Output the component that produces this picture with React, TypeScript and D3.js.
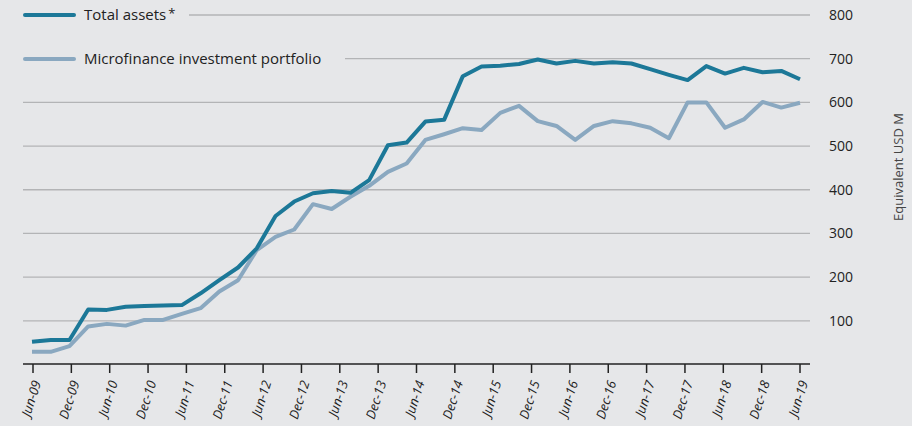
import React from "react";
import * as d3 from "d3";

const tickLabels = [
  "Jun-09", "Dec-09", "Jun-10", "Dec-10", "Jun-11", "Dec-11", "Jun-12",
  "Dec-12", "Jun-13", "Dec-13", "Jun-14", "Dec-14", "Jun-15", "Dec-15",
  "Jun-16", "Dec-16", "Jun-17", "Dec-17", "Jun-18", "Dec-18", "Jun-19",
];

const totalAssets = [
  52, 56, 56, 126, 125, 132, 134, 135, 136, 163, 193, 222, 266, 340, 373,
  392, 397, 393, 422, 502, 508, 556, 560, 660, 682, 684, 688, 698, 689, 695,
  689, 692, 689, 676, 663, 651, 683, 666, 679, 669, 672, 653,
];

const portfolio = [
  29, 29, 42, 87, 93, 89, 102, 102, 116, 129, 167, 193, 262, 292, 309,
  367, 356, 384, 409, 441, 460, 514, 527, 541, 537, 576, 592, 557, 546, 514,
  546, 557, 552, 542, 518, 600, 600, 542, 561, 601, 588, 599,
];

const yTicks = [100, 200, 300, 400, 500, 600, 700, 800];

const seriesNames = ["Total assets", "Microfinance investment portfolio"];

const W = 912;
const H = 426;
const FONT = "'Open Sans', 'DejaVu Sans', sans-serif";

export default function App() {
  const left = 23;
  const right = 810;
  const y = d3.scaleLinear().domain([0, 800]).range([364.5, 15]);
  const xData = d3.scaleLinear().domain([0, totalAssets.length - 1]).range([32, 800]);
  const xTick = d3.scalePoint<string>().domain(tickLabels).range([33, 800]);

  const line = d3
    .line<number>()
    .x((_, i) => xData(i))
    .y((d) => y(d));

  const dark = "#1c7898";
  const light = "#8aa8c0";
  const grid = "#b3b4b6";

  const legendStarts: Record<number, number> = { 800: 189, 700: 345 };

  return (
    <div style={{ position: "absolute", left: 0, top: 0 }}>
      <svg width={W} height={H} style={{ display: "block", background: "#e6e7e9" }}>
        <rect x={0} y={0} width={W} height={H} fill="#e6e7e9" />
        {yTicks.map((t) => (
          <g key={t}>
            <line
              x1={legendStarts[t] ?? left}
              x2={right}
              y1={y(t)}
              y2={y(t)}
              stroke={grid}
              strokeWidth={1.3}
            />
            <text
              x={829}
              y={y(t)}
              dy="0.36em"
              fontFamily={FONT}
              fontSize={14}
              fill="#222"
            >
              {t}
            </text>
          </g>
        ))}
        <text
          transform="translate(903,167) rotate(-90)"
          textAnchor="middle"
          fontFamily={FONT}
          fontSize={13}
          fill="#444"
        >
          Equivalent USD M
        </text>

        {/* x axis */}
        <line x1={left} x2={right} y1={364} y2={364} stroke="#222" strokeWidth={1.3} />
        {tickLabels.map((lab) => {
          const tx = xTick(lab) as number;
          return (
            <g key={lab}>
              <line x1={tx} x2={tx} y1={364} y2={373} stroke="#222" strokeWidth={1.5} />
              <text
                transform={`translate(${tx + 4},381) rotate(-72)`}
                textAnchor="end"
                dy="0.35em"
                fontFamily={FONT}
                fontStyle="italic"
                fontSize={13}
                fill="#222"
              >
                {lab}
              </text>
            </g>
          );
        })}

        <path
          d={line(portfolio) || ""}
          fill="none"
          stroke={light}
          strokeWidth={4}
          strokeLinejoin="round"
        />
        <path
          d={line(totalAssets) || ""}
          fill="none"
          stroke={dark}
          strokeWidth={4}
          strokeLinejoin="round"
        />

        {/* legend */}
        <line x1={25} x2={74} y1={15} y2={15} stroke={dark} strokeWidth={4} strokeLinecap="round" />
        <text x={84} y={15} dy="0.36em" fontFamily={FONT} fontSize={15} fill="#222">
          {seriesNames[0]}
          <tspan dx={2} dy={-2} fontSize={13}>*</tspan>
        </text>
        <line x1={25} x2={74} y1={59} y2={59} stroke={light} strokeWidth={4} strokeLinecap="round" />
        <text x={84} y={59} dy="0.36em" fontFamily={FONT} fontSize={15} fill="#222">
          {seriesNames[1]}
        </text>
      </svg>
    </div>
  );
}
